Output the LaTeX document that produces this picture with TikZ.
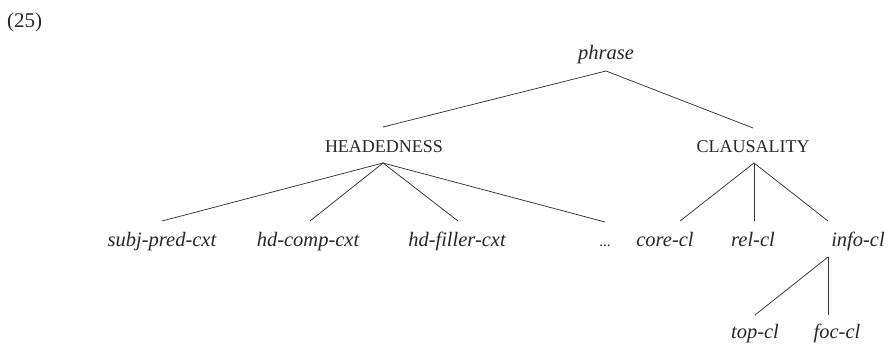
\documentclass[tikz,border=0pt]{standalone}
\usepackage{fontspec}
\setmainfont{Liberation Serif}
\begin{document}
\begin{tikzpicture}[x=1pt,y=-1pt,
  lbl/.style={anchor=base,inner sep=0pt,font=\fontsize{20.5}{24}\selectfont\itshape,text=black!85},
  caplbl/.style={anchor=base,inner sep=0pt,font=\fontsize{18}{22}\selectfont,text=black!85},
  branch/.style={draw=black!80,line width=0.75pt}]
\useasboundingbox (0,0) rectangle (889,347);
% example number
\node[anchor=base west,inner sep=0pt,font=\fontsize{21}{24}\selectfont,text=black!85] (num) at (7,28) {(25)};
% nodes
\node[lbl] (phrase) at (606,60) {phrase};
\node[caplbl] (head) at (384,153) {HEADEDNESS};
\node[caplbl] (claus) at (753,153) {CLAUSALITY};
\node[lbl] (subj) at (162,247) {subj-pred-cxt};
\node[lbl] (hdcomp) at (308,247) {hd-comp-cxt};
\node[lbl] (hdfill) at (457,247) {hd-filler-cxt};
\node[lbl,font=\fontsize{15}{18}\selectfont] (dots) at (605,247) {...};
\node[lbl] (core) at (665,247) {core-cl};
\node[lbl] (rel) at (753,247) {rel-cl};
\node[lbl] (info) at (858,247) {info-cl};
\node[lbl] (top) at (755,338) {top-cl};
\node[lbl] (foc) at (837,338) {foc-cl};
% connector end points
\coordinate (phrase-dn) at (606,71);
\coordinate (head-up) at (383,127);
\coordinate (claus-up) at (753,128);
\coordinate (head-dn) at (383,163);
\coordinate (claus-dn) at (754,163);
\coordinate (subj-up) at (162,221);
\coordinate (hdcomp-up) at (310,221);
\coordinate (hdfill-up) at (458,221);
\coordinate (dots-up) at (605,222);
\coordinate (core-up) at (680,221);
\coordinate (rel-up) at (754,221);
\coordinate (info-up) at (828,221);
\coordinate (info-dn) at (828,257);
\coordinate (top-up) at (755,315);
\coordinate (foc-up) at (828,315);
% connectors
\draw[branch] (phrase-dn) -- (head-up);
\draw[branch] (phrase-dn) -- (claus-up);
\draw[branch] (head-dn) -- (subj-up);
\draw[branch] (head-dn) -- (hdcomp-up);
\draw[branch] (head-dn) -- (hdfill-up);
\draw[branch] (head-dn) -- (dots-up);
\draw[branch] (claus-dn) -- (core-up);
\draw[branch] (claus-dn) -- (rel-up);
\draw[branch] (claus-dn) -- (info-up);
\draw[branch] (info-dn) -- (top-up);
\draw[branch] (info-dn) -- (foc-up);
\end{tikzpicture}
\end{document}
